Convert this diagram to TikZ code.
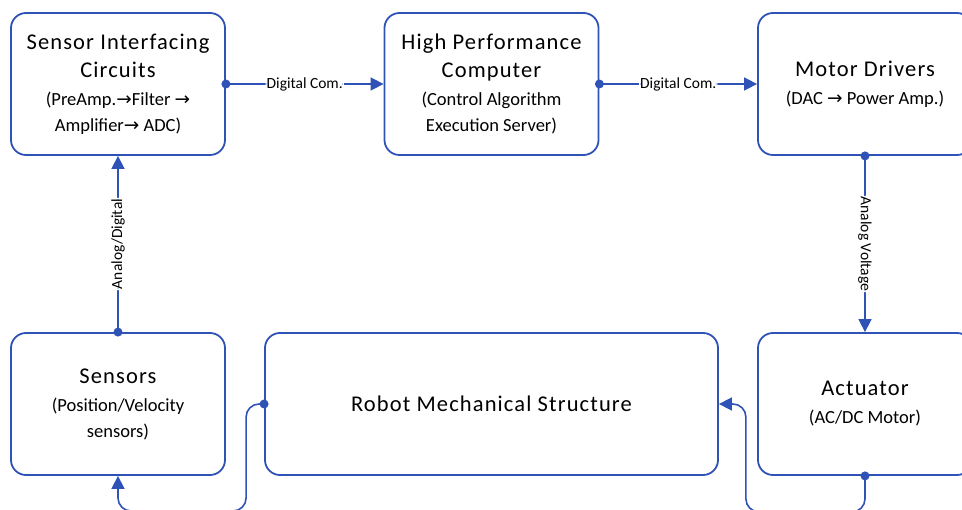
\documentclass[tikz,border=0pt]{standalone}
\usepackage{fontspec}
\setmainfont{Carlito}
\newfontfamily\arrowfont{DejaVu Sans}
\newfontfamily\spacedfont[LetterSpace=5]{Carlito}
\usetikzlibrary{arrows.meta}
\definecolor{linkblue}{RGB}{47,82,183}
\newcommand{\ra}{{\arrowfont\char"2192}}
\newcommand{\boxtitle}{\fontsize{22.5}{28}\spacedfont}
\newcommand{\boxsub}{\fontsize{18.5}{26}\selectfont}
\tikzset{
    block/.style={draw=linkblue,line width=1.8pt,rounded corners=15pt,
        minimum width=214pt,minimum height=142pt,align=center,inner sep=0pt,
        font=\boxsub},
    link/.style={draw=linkblue,line width=1.6pt,rounded corners=13pt,
        -{Triangle[length=13pt,width=13pt]}},
    tag/.style={fill=white,inner sep=1pt,font=\fontsize{15.5}{17}\selectfont},
}
\begin{document}
\begin{tikzpicture}[x=1pt,y=-1pt]
    \useasboundingbox (0,0) rectangle (962,510);
    % top row
    \node[block] (interf) at (118,84) {\boxtitle Sensor Interfacing\\[2pt]\boxtitle Circuits\\[2pt]
        \boxsub (PreAmp.\ra{}Filter \ra\\\boxsub Amplifier\ra{} ADC)};
    \node[block] (hpc) at (491.5,84) {\boxtitle High Performance\\[2pt]\boxtitle Computer\\[2pt]
        \boxsub (Control Algorithm\\\boxsub Execution Server)};
    \node[block] (motor) at (865,84) {\boxtitle Motor Drivers\\[2pt]\boxsub (DAC \ra{} Power Amp.)};
    % bottom row
    \node[block] (sensors) at (118,404) {\boxtitle Sensors\\[2pt]
        \boxsub (Position/Velocity\\\boxsub sensors)};
    \node[block,minimum width=453pt] (robot) at (491.5,404) {\boxtitle Robot Mechanical Structure};
    \node[block] (actuator) at (865,404) {\boxtitle Actuator\\[2pt]\boxsub (AC/DC Motor)};
    % links
    \draw[link] (interf.east) -- node[tag] {Digital Com.} (hpc.west);
    \draw[link] (hpc.east) -- node[tag] {Digital Com.} (motor.west);
    \draw[link] (motor.south) -- node[tag,rotate=-90] {Analog Voltage} (actuator.north);
    \draw[link] (sensors.north) -- node[tag,rotate=90] {Analog/Digital} (interf.south);
    \draw[link] (actuator.south) -- ++(0,36) -| ([xshift=27pt]robot.east) -- (robot.east);
    \draw[link] (robot.west) -- ++(-18,0) -- ++(0,107) -| (sensors.south);
    % start dots
    \foreach \p in {interf.east,hpc.east,motor.south,sensors.north,actuator.south,robot.west}
        \fill[linkblue] (\p) circle (4.5pt);
\end{tikzpicture}
\end{document}
